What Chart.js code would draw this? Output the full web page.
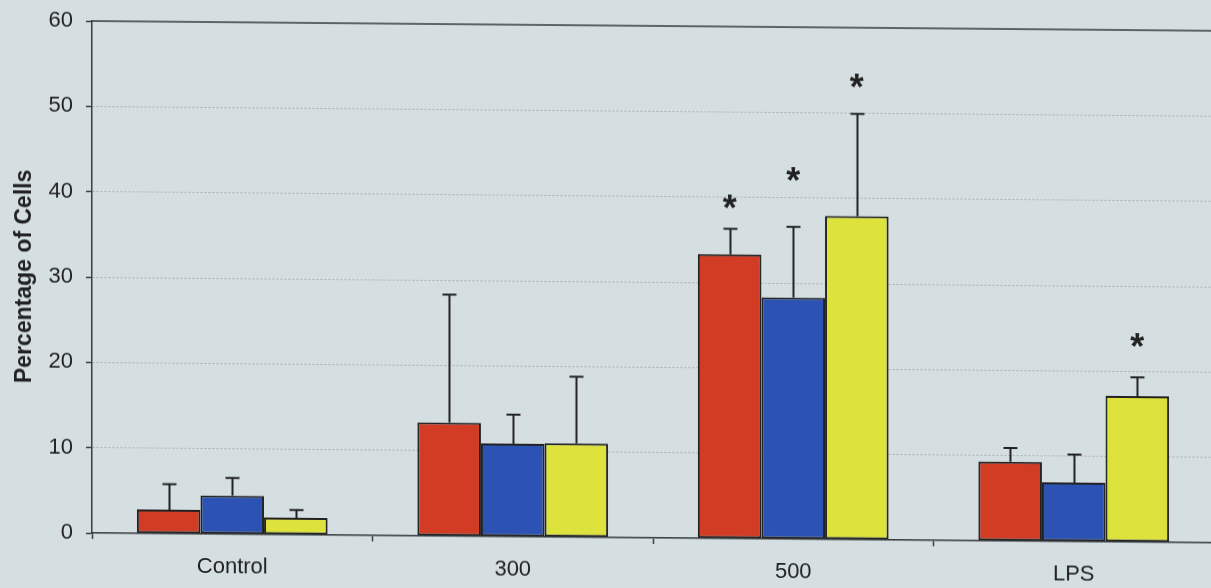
<!DOCTYPE html>
<html>
<head>
<meta charset="utf-8">
<script src="https://cdn.jsdelivr.net/npm/chart.js@4/dist/chart.umd.min.js"></script>
<style>
  html, body { margin: 0; padding: 0; background: #d5dfe1; overflow: hidden; }
  #wrap { width: 1211px; height: 588px; overflow: hidden; position: relative; background: #d5dfe1; }
  #c { position: absolute; left: 0; top: 0; transform: skewY(0.5deg); transform-origin: 92px 533px; }
</style>
</head>
<body>
<div id="wrap"><canvas id="c" width="1240" height="588"></canvas></div>
<script>
// Treatment groups on the x axis
const categories = ['Control', '300', '500', 'LPS'];

// Mean percentage of cells per group, and the standard deviation above each bar
const redMeans    = [2.8, 13.3, 33.3, 9.3];
const redSD       = [3.0, 15.0, 3.0, 1.6];
const blueMeans   = [4.5, 10.9, 28.3, 6.9];
const blueSD      = [2.1, 3.4, 8.3, 3.3];
const yellowMeans = [2.0, 11.0, 37.9, 17.1];
const yellowSD    = [0.9, 7.8, 12.0, 2.2];

// Height (in %) at which a significance asterisk sits, null where none
const redStars    = [null, null, 39.5, null];
const blueStars   = [null, null, 42.8, null];
const yellowStars = [null, null, 53.8, 23.7];

// Y axis
const yTicks = [0, 10, 20, 30, 40, 50, 60];
const yTitle = 'Percentage of Cells';

const INK = '#222222';
const FONT = "'Liberation Sans', Arial, sans-serif";

const errorBars = {
  id: 'errorBars',
  afterDatasetsDraw(chart) {
    const ctx = chart.ctx;
    const y = chart.scales.y;
    ctx.save();
    ctx.strokeStyle = INK;
    ctx.lineWidth = 2;
    chart.data.datasets.forEach((ds, i) => {
      const meta = chart.getDatasetMeta(i);
      meta.data.forEach((bar, j) => {
        const top = y.getPixelForValue(ds.data[j] + ds.sd[j]);
        const x = Math.round(bar.x) + 0.5;
        ctx.beginPath();
        ctx.moveTo(x, bar.y);
        ctx.lineTo(x, top);
        ctx.moveTo(x - 7, top);
        ctx.lineTo(x + 7, top);
        ctx.stroke();
      });
    });
    ctx.restore();
  }
};

const sigStars = {
  id: 'sigStars',
  afterDatasetsDraw(chart) {
    const ctx = chart.ctx;
    const y = chart.scales.y;
    ctx.save();
    ctx.fillStyle = INK;
    ctx.font = "bold 36px " + FONT;
    ctx.textAlign = 'center';
    ctx.textBaseline = 'alphabetic';
    const m = ctx.measureText('*');
    const mid = (m.actualBoundingBoxAscent - m.actualBoundingBoxDescent) / 2;
    chart.data.datasets.forEach((ds, i) => {
      const meta = chart.getDatasetMeta(i);
      meta.data.forEach((bar, j) => {
        const v = ds.stars[j];
        if (v === null) return;
        ctx.fillText('*', bar.x, y.getPixelForValue(v) + mid);
      });
    });
    ctx.restore();
  }
};

const topFrame = {
  id: 'topFrame',
  beforeDatasetsDraw(chart) {
    const { ctx, chartArea } = chart;
    ctx.save();
    ctx.strokeStyle = '#3a3f42';
    ctx.lineWidth = 1.5;
    ctx.beginPath();
    ctx.moveTo(chartArea.left, chartArea.top);
    ctx.lineTo(chartArea.right + 40, chartArea.top);
    ctx.stroke();
    ctx.restore();
  }
};

new Chart(document.getElementById('c'), {
  type: 'bar',
  data: {
    labels: categories,
    datasets: [
      { data: redMeans,    sd: redSD,    stars: redStars,    backgroundColor: '#d23b24' },
      { data: blueMeans,   sd: blueSD,   stars: blueStars,   backgroundColor: '#2c53b4' },
      { data: yellowMeans, sd: yellowSD, stars: yellowStars, backgroundColor: '#dde23c' }
    ].map(d => Object.assign(d, {
      borderColor: INK,
      borderWidth: 2,
      borderSkipped: false,
      categoryPercentage: 0.68,
      barPercentage: 1.0
    }))
  },
  options: {
    responsive: false,
    animation: false,
    devicePixelRatio: 1,
    layout: { padding: { top: 21, right: 26, left: 0, bottom: 0 } },
    plugins: { legend: { display: false }, tooltip: { enabled: false } },
    scales: {
      x: {
        afterFit(scale) { scale.height = 55; },
        grid: {
          display: true,
          drawOnChartArea: false,
          offset: true,
          tickLength: 6,
          tickColor: '#3a3f42',
          tickWidth: 1.5
        },
        border: { display: true, color: '#3a3f42', width: 1.5 },
        ticks: { color: INK, font: { family: FONT, size: 22 }, padding: 14 }
      },
      y: {
        min: 0,
        max: 60,
        afterFit(scale) {
          scale.width = 92;
          scale.paddingTop = 0;
          scale.paddingBottom = 0;
        },
        afterBuildTicks(scale) { scale.ticks = yTicks.map(v => ({ value: v })); },
        grid: {
          color: '#a7b1b5',
          lineWidth: 1,
          tickLength: 6,
          tickColor: '#3a3f42',
          tickWidth: 1.5
        },
        border: { display: true, color: '#3a3f42', width: 1.5, dash: [2, 2] },
        ticks: { color: INK, font: { family: FONT, size: 22 }, padding: 13 },
        title: {
          display: true,
          text: yTitle,
          color: INK,
          font: { family: FONT, size: 23, weight: 'bold' },
          padding: { top: 11, bottom: 0 }
        }
      }
    }
  },
  plugins: [topFrame, errorBars, sigStars]
});
</script>
</body>
</html>
